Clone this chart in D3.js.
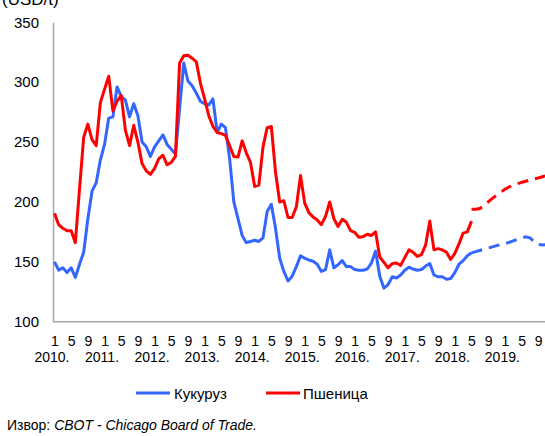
<!DOCTYPE html>
<html><head><meta charset="utf-8">
<script src="https://cdn.jsdelivr.net/npm/d3@7/dist/d3.min.js"></script>
<style>body{margin:0;background:#fff}svg{display:block}</style>
</head><body><svg id="c" width="545" height="436"></svg>
<script>
// ---- data ----
const years = ["2010.","2011.","2012.","2013.","2014.","2015.","2016.","2017.","2018.","2019."];
const monthTickLabels = ["1","5","9"];
const yTicks = [100,150,200,250,300,350];
const seriesNames = ["Кукуруз","Пшеница"];
const seriesColors = ["#3366ff","#ff0000"];
const unitLabel = "(USD/t)";
const sourceLabel = "Извор: ";
const sourceItalic = "CBOT - Chicago Board of Trade.";
// monthly, Jan 2010 .. May 2018
const corn = [150,143,145,141,145,137,148,158,186,209,216,235,
  248,270,271,296,288,285,271,282,272,250,246,238,
  246,251,256,248,244,240,278,316,301,297,291,284,
  282,281,286,258,265,262,236,200,186,172,166,167,
  168,167,170,192,198,178,153,142,134,138,146,155,
  153,151.5,150.5,148,142,143.5,160,145,147.5,151,146,146,
  143.5,143,143,144,149,159,138,128,131,137.5,136.5,139,
  143,145.5,144,143,143.5,146.5,148.5,139,137.5,137.5,135.5,136,
  141,148,151,155,157.5];
const wheat = [190.5,181,178,176,176,166,211,254,265,252,247,283,
  294,305,276,284,289,260,247,264,250,232,226,223,
  228,236,239,231,233,238,316,322,322.5,320,317,299,
  286,272,263,258,257,255.5,247,238,237.5,251,241,233,
  213,214,246,262,263,225,200,201,187,187,196,222,
  199,191,187.5,185,181,188,200,186,179.5,185.5,183,176,
  174.5,170.5,171,173,172,175,154,149.5,145,148.5,149,147,
  153.5,160,158,154.5,156,164,184,160,161,160,158,152,
  157,165,174,175,184];
// futures (dashed), from May 2018 onward
const futuresStartIndex = 100;
const cornFutures = [157.5,158.5,159.5,160.5,161.5,162.5,163.5,164.3,165.2,166.2,167.5,168.7,169.8,170.8,170,167,164.5,164,164.5];
const wheatFutures = [194,194,194.5,197,200,203,205.5,208,210.5,212.5,214,215.2,216.3,217.3,218.3,219.2,220,221,222];

// ---- chart ----
const font = "'Liberation Sans', Arial, sans-serif";
const svg = d3.select("#c").style("font-family", font);
const x = d3.scaleLinear().domain([0, 116]).range([54.5, 54.5 + 116*4.17]);
const y = d3.scaleLinear().domain([100, 350]).range([321.7, 22.3]);
const axisColor = "#a6a6a6";

const gy = svg.append("g").attr("transform","translate(53,0)")
  .call(d3.axisLeft(y).tickValues(yTicks).tickSize(0).tickPadding(14).tickFormat(d3.format("d")));
gy.select(".domain").attr("stroke", axisColor).attr("stroke-width",1.5);
gy.selectAll("text").attr("font-size",15).attr("fill","#000").attr("font-family",font);

const monthTicks = d3.range(0, 117, 4);
const gx = svg.append("g").attr("transform","translate(0,321.7)")
  .call(d3.axisBottom(x).tickValues(monthTicks).tickSize(0).tickPadding(14)
     .tickFormat(d => monthTickLabels[(d % 12) / 4]));
gx.select(".domain").attr("d", "M53,0H545").attr("stroke", axisColor).attr("stroke-width",1.5);
gx.selectAll("text").attr("font-size",14).attr("fill","#000").attr("font-family",font);

svg.append("g").selectAll("text").data(years).join("text")
  .attr("x", (d,i) => x(i*12) - 2.5).attr("y", 362)
  .attr("text-anchor","middle").attr("font-size",14).text(d => d);

const line = d3.line().x(d => x(d[0])).y(d => y(d[1]));
const toPts = (arr, start) => arr.map((v,i) => [start + i, v]);
svg.append("defs").append("clipPath").attr("id","clip")
  .append("rect").attr("x",0).attr("y",0).attr("width",545).attr("height",322);
const plot = svg.append("g").attr("clip-path","url(#clip)");
[[corn, cornFutures, 0],[wheat, wheatFutures, 1]].forEach(([act, fut, k]) => {
  plot.append("path").attr("d", line(toPts(act, 0))).attr("fill","none")
    .attr("stroke", seriesColors[k]).attr("stroke-width",3).attr("stroke-linejoin","round");
  plot.append("path").attr("d", line(toPts(fut, futuresStartIndex))).attr("fill","none")
    .attr("stroke", seriesColors[k]).attr("stroke-width",3).attr("stroke-dasharray","11,7");
});

// legend
const lg = [{x0:136, tx:174},{x0:266, tx:303}];
lg.forEach((p,k) => {
  svg.append("line").attr("x1",p.x0).attr("x2",p.x0+34).attr("y1",393).attr("y2",393)
    .attr("stroke",seriesColors[k]).attr("stroke-width",3);
  svg.append("text").attr("x",p.tx).attr("y",398.5).attr("font-size",15).text(seriesNames[k]);
});

// unit label and source
svg.append("text").attr("x",2).attr("y",5).attr("font-size",17).text(unitLabel);
const src = svg.append("text").attr("x",7).attr("y",430).attr("font-size",14);
src.append("tspan").text(sourceLabel);
src.append("tspan").attr("font-style","italic").text(sourceItalic);
</script></body></html>
